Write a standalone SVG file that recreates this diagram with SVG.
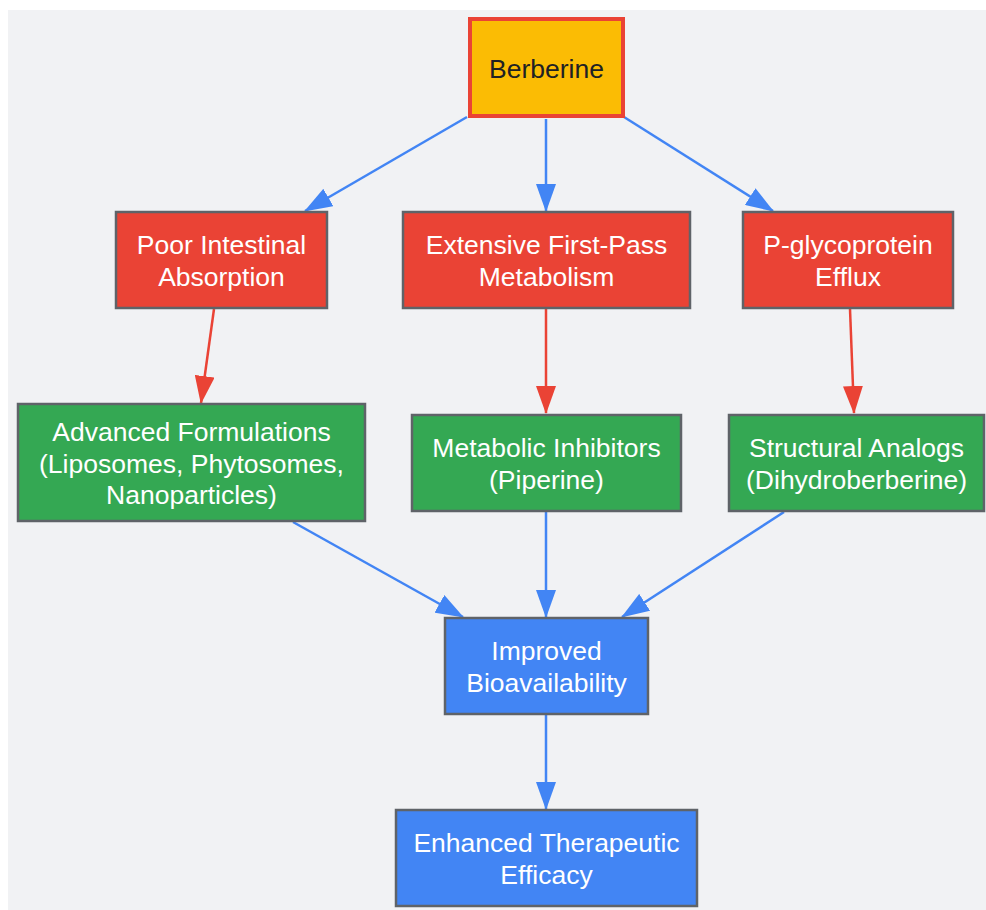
<svg xmlns="http://www.w3.org/2000/svg" width="986" height="910" viewBox="0 0 986 910">
<style>
.n rect{stroke:#5f6368;stroke-width:2.5}
.red rect{fill:#ea4335}
.green rect{fill:#34a853}
.blue rect{fill:#4285f4}
text{font-family:"Liberation Sans",Arial,sans-serif;font-size:26.5px;fill:#ffffff;text-anchor:middle}
.e{fill:none;stroke-width:2.5}
.eb{stroke:#4285f4}
.er{stroke:#ea4335}
</style>
<defs>
<marker id="ab" markerWidth="28" markerHeight="20" refX="27" refY="10" orient="auto" markerUnits="userSpaceOnUse"><path d="M0,0 L28,10 L0,20 Z" fill="#4285f4"/></marker>
<marker id="ar" markerWidth="28" markerHeight="20" refX="27" refY="10" orient="auto" markerUnits="userSpaceOnUse"><path d="M0,0 L28,10 L0,20 Z" fill="#ea4335"/></marker>
</defs>
<rect x="8" y="10" width="978" height="900" fill="#f1f2f4"/>
<g id="edges">
<line class="e eb" x1="467" y1="117" x2="305" y2="211" marker-end="url(#ab)"/>
<line class="e eb" x1="546" y1="119" x2="546" y2="211" marker-end="url(#ab)"/>
<line class="e eb" x1="624" y1="117" x2="773" y2="211" marker-end="url(#ab)"/>
<line class="e er" x1="214" y1="309" x2="201" y2="403" marker-end="url(#ar)"/>
<line class="e er" x1="546" y1="309" x2="546" y2="413" marker-end="url(#ar)"/>
<line class="e er" x1="850" y1="309" x2="854" y2="413" marker-end="url(#ar)"/>
<line class="e eb" x1="293" y1="522" x2="463" y2="617" marker-end="url(#ab)"/>
<line class="e eb" x1="546" y1="512" x2="546" y2="617" marker-end="url(#ab)"/>
<line class="e eb" x1="784" y1="512" x2="622" y2="617" marker-end="url(#ab)"/>
<line class="e eb" x1="546" y1="715" x2="546" y2="809" marker-end="url(#ab)"/>
</g>
<g id="berberine"><rect x="470" y="19" width="153" height="97" fill="#fbbc04" stroke="#ea4335" stroke-width="4"/><text x="546.5" y="78" style="fill:#202124">Berberine</text></g>
<g id="poor" class="n red"><rect x="116" y="212" width="211" height="96"/><text x="221.5" y="254">Poor Intestinal</text><text x="221.5" y="286">Absorption</text></g>
<g id="firstpass" class="n red"><rect x="403" y="212" width="287" height="96"/><text x="546.5" y="254">Extensive First-Pass</text><text x="546.5" y="286">Metabolism</text></g>
<g id="pgp" class="n red"><rect x="743" y="212" width="210" height="96"/><text x="848" y="254">P-glycoprotein</text><text x="848" y="286">Efflux</text></g>
<g id="formulations" class="n green"><rect x="18" y="404" width="347" height="117"/><text x="191.5" y="441">Advanced Formulations</text><text x="191.5" y="473">(Liposomes, Phytosomes,</text><text x="191.5" y="504">Nanoparticles)</text></g>
<g id="inhibitors" class="n green"><rect x="412" y="415" width="269" height="96"/><text x="546.5" y="457">Metabolic Inhibitors</text><text x="546.5" y="489">(Piperine)</text></g>
<g id="analogs" class="n green"><rect x="729" y="415" width="255" height="96"/><text x="856.5" y="457">Structural Analogs</text><text x="856.5" y="489">(Dihydroberberine)</text></g>
<g id="improved" class="n blue"><rect x="445" y="618" width="203" height="96"/><text x="546.5" y="660">Improved</text><text x="546.5" y="692">Bioavailability</text></g>
<g id="enhanced" class="n blue"><rect x="396" y="810" width="301" height="96"/><text x="546.5" y="852">Enhanced Therapeutic</text><text x="546.5" y="884">Efficacy</text></g>
</svg>
